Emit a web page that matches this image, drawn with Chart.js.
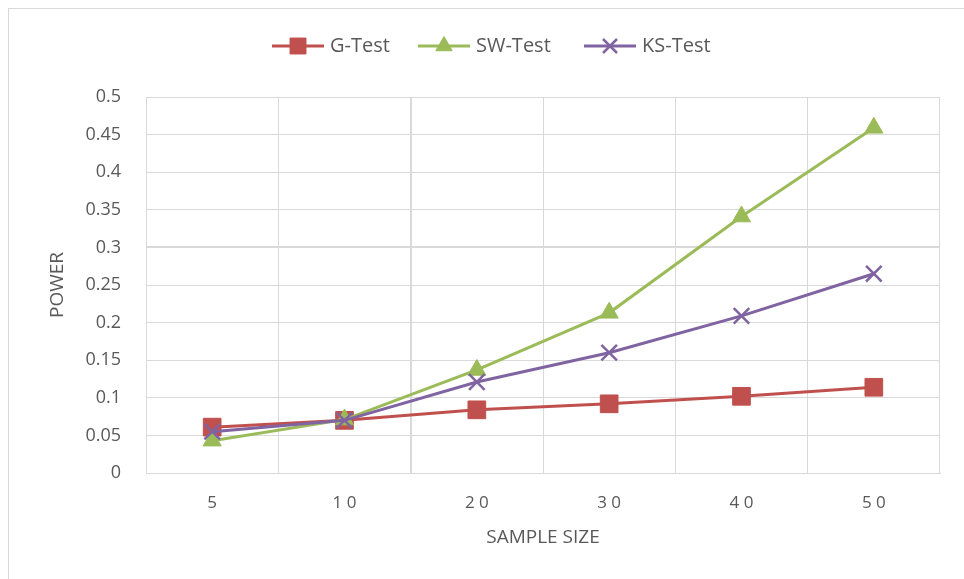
<!DOCTYPE html>
<html>
<head>
<meta charset="utf-8">
<script src="https://cdn.jsdelivr.net/npm/chart.js@4.4.0/dist/chart.umd.min.js"></script>
<style>
  html, body { margin: 0; padding: 0; background: #fff; overflow: hidden; }
  #wrap { position: relative; width: 964px; height: 579px; }
  #marco { position: absolute; left: 8px; top: 8px; width: 1000px; height: 700px; border: 1px solid #d9d9d9; box-sizing: border-box; }
  #grafico { position: absolute; left: 0; top: 0; }
</style>
</head>
<body>
<div id="wrap">
  <div id="marco"></div>
  <canvas id="grafico" width="964" height="579"></canvas>
</div>
<script>
// Datos
const categorias = ['5', '1 0', '2 0', '3 0', '4 0', '5 0'];
const gTest  = [0.061, 0.070, 0.084, 0.092, 0.102, 0.114];
const swTest = [0.043, 0.071, 0.137, 0.213, 0.341, 0.459];
const ksTest = [0.055, 0.070, 0.121, 0.160, 0.209, 0.265];

const ROJO = '#C0504D';
const VERDE = '#9BBB59';
const MORADO = '#8064A2';
const GRIS = '#595959';
const FUENTE = "'Open Sans', 'Noto Sans', sans-serif";

// Leyenda dibujada a mano (línea con marcador en el medio)
const leyendaPlugin = {
    id: 'leyendaExcel',
    afterDraw(chart) {
        const ctx = chart.ctx;
        const y = 46;
        const items = [
            { x: 272, texto: 'G-Test', ds: 0 },
            { x: 418, texto: 'SW-Test', ds: 1 },
            { x: 584, texto: 'KS-Test', ds: 2 }
        ];
        ctx.save();
        items.forEach(it => {
            const d = chart.data.datasets[it.ds];
            ctx.strokeStyle = d.borderColor;
            ctx.lineWidth = 3;
            ctx.beginPath();
            ctx.moveTo(it.x, y);
            ctx.lineTo(it.x + 52, y);
            ctx.stroke();
            ctx.fillStyle = d.pointBackgroundColor;
            ctx.strokeStyle = d.pointBorderColor;
            ctx.lineWidth = d.pointBorderWidth;
            Chart.helpers.drawPoint(ctx, {
                pointStyle: d.pointStyle,
                radius: d.pointRadius * 0.9,
                borderWidth: d.pointBorderWidth,
                rotation: 0
            }, it.x + 26, y);
            ctx.fillStyle = GRIS;
            ctx.font = '20px ' + FUENTE;
            ctx.textBaseline = 'middle';
            ctx.fillText(it.texto, it.x + 58, y);
        });
        ctx.restore();
    }
};

document.addEventListener('DOMContentLoaded', () => {
    const ctx = document.getElementById('grafico').getContext('2d');

    new Chart(ctx, {
        type: 'line',
        data: {
            labels: categorias,
            datasets: [
                {
                    label: 'G-Test',
                    data: gTest,
                    borderColor: ROJO,
                    backgroundColor: ROJO,
                    pointBackgroundColor: ROJO,
                    pointBorderColor: ROJO,
                    pointStyle: 'rect',
                    pointRadius: 12.5,
                    pointBorderWidth: 1,
                    borderWidth: 3,
                    tension: 0,
                    order: 3
                },
                {
                    label: 'SW-Test',
                    data: swTest,
                    borderColor: VERDE,
                    backgroundColor: VERDE,
                    pointBackgroundColor: VERDE,
                    pointBorderColor: VERDE,
                    pointStyle: 'triangle',
                    pointRadius: 10.5,
                    pointBorderWidth: 1,
                    borderWidth: 3,
                    tension: 0,
                    order: 2
                },
                {
                    label: 'KS-Test',
                    data: ksTest,
                    borderColor: MORADO,
                    backgroundColor: MORADO,
                    pointBackgroundColor: MORADO,
                    pointBorderColor: MORADO,
                    pointStyle: 'crossRot',
                    pointRadius: 11,
                    pointBorderWidth: 2.5,
                    borderWidth: 3,
                    tension: 0,
                    order: 1
                }
            ]
        },
        options: {
            responsive: false,
            animation: false,
            layout: { padding: { left: 0, top: 97, right: 24, bottom: 0 } },
            plugins: {
                legend: { display: false },
                tooltip: { enabled: false }
            },
            scales: {
                x: {
                    offset: true,
                    grid: {
                        offset: true,
                        color: '#d9d9d9',
                        lineWidth: (c) => (c.index === 2 ? 2 : 1),
                        drawTicks: false
                    },
                    border: { color: '#d9d9d9' },
                    ticks: {
                        color: GRIS,
                        font: { family: FUENTE, size: 17 },
                        padding: 20,
                        maxRotation: 0
                    },
                    title: {
                        display: true,
                        text: 'SAMPLE SIZE',
                        color: GRIS,
                        font: { family: FUENTE, size: 19 },
                        padding: { top: 0, bottom: 30 }
                    },
                    afterFit: (s) => { s.height = 106; }
                },
                y: {
                    min: 0,
                    max: 0.5,
                    grid: {
                        color: '#d9d9d9',
                        lineWidth: (c) => (c.tick && Math.abs(c.tick.value - 0.3) < 1e-9 ? 2 : 1),
                        drawTicks: false
                    },
                    border: { color: '#d9d9d9' },
                    ticks: {
                        stepSize: 0.05,
                        color: GRIS,
                        font: { family: FUENTE, size: 18 },
                        padding: 25,
                        callback: (v) => String(Number(v.toFixed(2)))
                    },
                    title: {
                        display: true,
                        text: 'POWER',
                        color: GRIS,
                        font: { family: FUENTE, size: 19 },
                        padding: { top: 46, bottom: 0 }
                    },
                    afterFit: (s) => { s.width = 146; }
                }
            }
        },
        plugins: [leyendaPlugin]
    });
});
</script>
</body>
</html>
